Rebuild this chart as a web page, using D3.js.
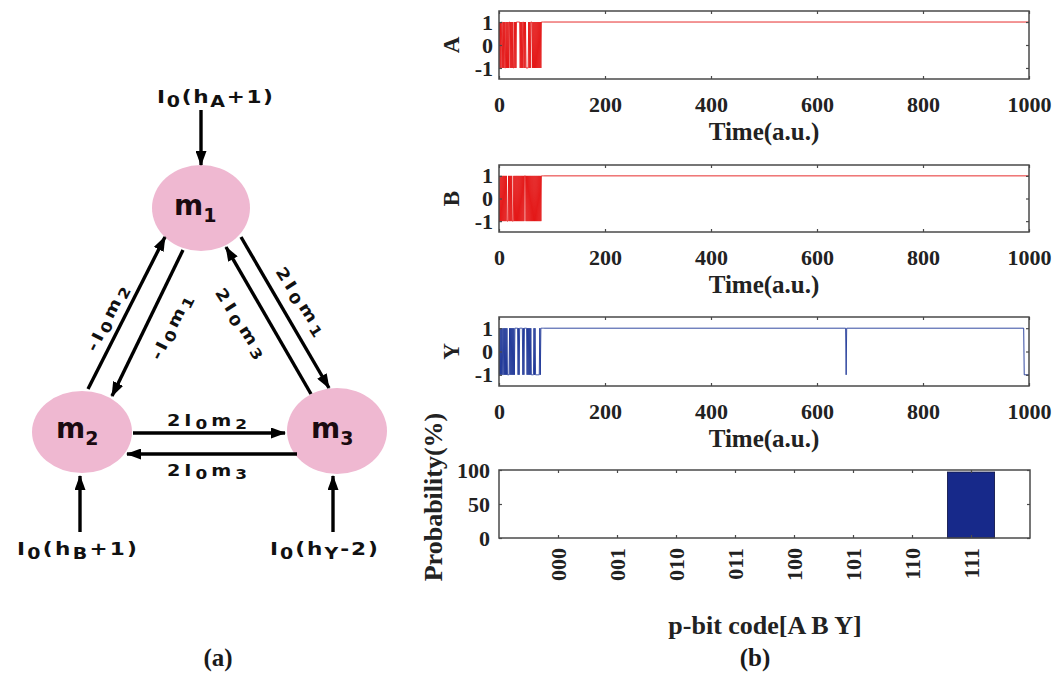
<!DOCTYPE html>
<html><head><meta charset="utf-8">
<script src="https://cdn.jsdelivr.net/npm/d3@7/dist/d3.min.js"></script>
<style>body{margin:0;background:#fff}</style>
</head><body>
<svg id="c" width="1063" height="675"></svg>
<script>
// ---------------- data ----------------
const timeTicks = [0, 200, 400, 600, 800, 1000];
const stateTicks = [1, 0, -1];
const codes = ["000", "001", "010", "011", "100", "101", "110", "111"];
const probability = [0, 0, 0, 0, 0, 0, 0, 97];
const probTicks = [0, 50, 100];

// p-bit states for time steps 0..84, then the later change points [time, state]
const A_early = [-1,1,-1,1,-1,1,1,-1,1,-1,1,-1,-1,1,-1,1,-1,1,-1,1,1,-1,1,-1,1,-1,1,-1,-1,1,-1,1,-1,1,
  1,1,1,1,1,1, -1,1,-1,1,-1,1,1,-1,1,-1,1,-1, -1,-1,-1,-1, 1,-1,1,-1,1, 1,1,
  -1,1,-1,1,-1,1,-1,1,-1,1,-1,1,-1,1,-1,1,-1, 1,1,1,1,1];
const A_tail = [[85, 1], [1000, 1]];

const B_early = [1,-1,1,-1,1,-1,1,-1,1,-1,1,-1,1,-1,1,-1, -1,-1, 1,-1,1,-1,1,-1,1,-1, -1,-1,
  1,-1,1,-1,1,-1,1,-1,1,-1,1,-1,1,-1,1,-1,1,-1,1,-1,1, 1,1,
  -1,1,-1,1,-1,1,-1,1,-1,1,-1,1,-1,1,-1,1,-1,1,-1,1,-1,1,-1,1,-1,1,-1,1,-1,1, 1,1,1,1];
const B_tail = [[85, 1], [1000, 1]];

const Y_early = [1,-1,1,-1,1,-1,1,-1,-1,1,-1,1,-1,1,-1,1,-1, -1,-1,-1, 1,-1,1,-1,1,-1,1,-1,1,-1,
  1,1,1,1,1,1, -1,1,-1,1, 1,1,1,1,1, -1,1,-1,1, 1,1,1,1, -1,1,-1,1,-1,1,-1,1,-1,
  -1,-1,-1,-1, 1,-1,1,-1, -1,-1,-1,-1,-1,-1,-1, 1,-1,1, 1,1,1,1,1];
const Y_tail = [[85, 1], [654, 1], [655, -1], [656, 1], [990, 1], [991, -1], [1000, -1]];

// ---------------- rendering ----------------
const svg = d3.select("#c");
const serif = "'Liberation Serif','Times New Roman',serif";
const sans = "'DejaVu Sans',Verdana,sans-serif";
const axisColor = "#4a4a4a";

// ===== (a) schematic =====
const defs = svg.append("defs");
defs.append("marker").attr("id", "ah").attr("markerUnits", "userSpaceOnUse")
  .attr("viewBox", "0 0 15 11").attr("markerWidth", 15).attr("markerHeight", 11)
  .attr("refX", 14).attr("refY", 5.5).attr("orient", "auto")
  .append("path").attr("d", "M0,0 L15,5.5 L0,11 Z").attr("fill", "#000");

const nodes = [
  {name: "m", sub: "1", cx: 201, cy: 208, rx: 49, ry: 43, tx: 174, ty: 215},
  {name: "m", sub: "2", cx: 82, cy: 432, rx: 50, ry: 41, tx: 56, ty: 438},
  {name: "m", sub: "3", cx: 337, cy: 431, rx: 50, ry: 43, tx: 311, ty: 438}
];
const arrows = [
  [201, 110, 201, 165], [80, 532, 80, 476], [333, 532, 333, 476],
  [133, 433, 285, 433], [297, 454, 127, 454],
  [88, 389, 165, 237], [183, 250, 112, 396],
  [241, 237, 329, 388], [311, 394, 226, 247]
];
const gA = svg.append("g");
gA.selectAll("ellipse").data(nodes).join("ellipse")
  .attr("cx", d => d.cx).attr("cy", d => d.cy).attr("rx", d => d.rx).attr("ry", d => d.ry)
  .attr("fill", "#efb8d1");
nodes.forEach(d => {
  const t = gA.append("text").attr("x", d.tx).attr("y", d.ty)
    .attr("font-family", sans).attr("font-weight", "bold").attr("font-size", 28).attr("fill", "#1a0a10");
  t.append("tspan").text(d.name);
  t.append("tspan").attr("font-size", 19).attr("dy", 7).text(d.sub);
});
gA.selectAll("line.arr").data(arrows).join("line").attr("class", "arr")
  .attr("x1", d => d[0]).attr("y1", d => d[1]).attr("x2", d => d[2]).attr("y2", d => d[3])
  .attr("stroke", "#000").attr("stroke-width", 3.4).attr("marker-end", "url(#ah)");

function rich(parts, size, cx, cy, angle, len) {
  const t = gA.append("text")
    .attr("transform", `translate(${cx},${cy}) rotate(${angle}) scale(1.2,1)`)
    .attr("text-anchor", "middle").attr("y", size * 0.36)
    .attr("font-family", sans).attr("font-weight", "bold").attr("font-size", size)
    .attr("textLength", len / 1.2).attr("lengthAdjust", "spacing").attr("fill", "#111");
  let shifted = false;
  parts.forEach(p => {
    const sub = p.startsWith("_");
    const s = t.append("tspan").text(sub ? p.slice(1) : p);
    if (sub && !shifted) { s.attr("dy", size * 0.2).attr("font-size", size * 0.88); shifted = true; }
    else if (sub) { s.attr("font-size", size * 0.88); }
    else if (shifted) { s.attr("dy", -size * 0.2); shifted = false; }
  });
}
rich(["I", "_0", "(h", "_A", "+1)"], 18, 215, 97, 0, 116);
rich(["I", "_0", "(h", "_B", "+1)"], 18, 77, 549, 0, 120);
rich(["I", "_0", "(h", "_Y", "-2)"], 18, 324, 549, 0, 108);
rich(["2I", "_0", "m", "_2"], 16, 207, 420, 0, 80);
rich(["2I", "_0", "m", "_3"], 16, 207, 470, 0, 80);
rich(["-I", "_0", "m", "_2"], 16, 107, 318, -63, 72);
rich(["-I", "_0", "m", "_1"], 16, 171, 327, -63, 71);
rich(["2I", "_0", "m", "_1"], 16, 301, 301, 57, 78);
rich(["2I", "_0", "m", "_3"], 16, 241, 323, 57, 80);

// ===== (b) time traces =====
const L = 499, R = 1029;
const xTime = d3.scaleLinear().domain([0, 1000]).range([L, R]);

function styleText(sel, size) {
  sel.selectAll("text").attr("font-family", serif).attr("font-weight", "bold")
    .attr("font-size", size).attr("fill", "#222");
}
function styleAxis(g) {
  g.select(".domain").remove();
  g.selectAll(".tick line").attr("stroke", axisColor).attr("stroke-width", 1.2);
}

function tracePanel(top, bottom, name, early, tail, color, id) {
  const y = d3.scaleLinear().domain([-1.48, 1.48]).range([bottom, top]);
  const pts = early.map((v, t) => [t, v]).concat(tail);
  const g = svg.append("g");
  defs.append("clipPath").attr("id", id).append("rect")
    .attr("x", L).attr("y", top).attr("width", R - L).attr("height", bottom - top);
  g.append("path").datum(pts).attr("clip-path", `url(#${id})`)
    .attr("d", d3.line().x(d => xTime(d[0])).y(d => y(d[1])))
    .attr("fill", "none").attr("stroke", color).attr("stroke-width", 0.9);

  const gb = g.append("g").attr("transform", `translate(0,${bottom})`)
    .call(d3.axisBottom(xTime).tickValues(timeTicks).tickSizeInner(-3).tickSizeOuter(0)
      .tickPadding(17).tickFormat(d3.format("d")));
  styleAxis(gb); styleText(gb, 22);
  const gt = g.append("g").attr("transform", `translate(0,${top})`)
    .call(d3.axisTop(xTime).tickValues(timeTicks).tickSizeInner(-3).tickSizeOuter(0).tickFormat(""));
  styleAxis(gt);
  const gl = g.append("g").attr("transform", `translate(${L},0)`)
    .call(d3.axisLeft(y).tickValues(stateTicks).tickSizeInner(-3).tickSizeOuter(0).tickPadding(6).tickFormat(d3.format("d")));
  styleAxis(gl); styleText(gl, 22);
  gl.selectAll("text").text(d => d < 0 ? "-1" : d);
  const gr = g.append("g").attr("transform", `translate(${R},0)`)
    .call(d3.axisRight(y).tickValues(stateTicks).tickSizeInner(-3).tickSizeOuter(0).tickFormat(""));
  styleAxis(gr);

  g.append("rect").attr("x", L).attr("y", top).attr("width", R - L).attr("height", bottom - top)
    .attr("fill", "none").attr("stroke", axisColor).attr("stroke-width", 1.5);

  g.append("text").attr("transform", `translate(451,${(top + bottom) / 2}) rotate(-90)`)
    .attr("text-anchor", "middle").attr("dy", "0.35em")
    .attr("font-family", serif).attr("font-weight", "bold").attr("font-size", 23).attr("fill", "#222").text(name);
  g.append("text").attr("x", (L + R) / 2).attr("y", bottom + 52).attr("dy", "0.35em")
    .attr("text-anchor", "middle").attr("font-family", serif).attr("font-weight", "bold")
    .attr("font-size", 25).attr("fill", "#222").text("Time(a.u.)");
}
tracePanel(11, 79, "A", A_early, A_tail, "#e31414", "clipA");
tracePanel(165, 232, "B", B_early, B_tail, "#e31414", "clipB");
tracePanel(317, 386, "Y", Y_early, Y_tail, "#1d3596", "clipY");

// ===== (b) probability bar chart =====
const bTop = 470, bBot = 538, bR = 1030;
const xCat = d3.scaleLinear().domain([0, 9]).range([L, bR]);
const yProb = d3.scaleLinear().domain([0, 100]).range([bBot, bTop]);
const gB = svg.append("g");
gB.selectAll("rect.bar").data(probability).join("rect").attr("class", "bar")
  .attr("x", (d, i) => xCat(i + 1 - 0.4)).attr("width", xCat(0.8) - xCat(0))
  .attr("y", d => yProb(d)).attr("height", d => yProb(0) - yProb(d))
  .attr("fill", "#17298a").attr("stroke", "#0b1040").attr("stroke-width", 0.8);

const catIdx = codes.map((c, i) => i + 1);
const cb = gB.append("g").attr("transform", `translate(0,${bBot})`)
  .call(d3.axisBottom(xCat).tickValues(catIdx).tickSizeInner(-3).tickSizeOuter(0).tickFormat(i => codes[i - 1]));
styleAxis(cb); styleText(cb, 22);
cb.selectAll("text").attr("transform", "rotate(-90)").attr("text-anchor", "end")
  .attr("x", -10).attr("y", 0).attr("dy", "0.35em");
const ct = gB.append("g").attr("transform", `translate(0,${bTop})`)
  .call(d3.axisTop(xCat).tickValues(catIdx).tickSizeInner(-3).tickSizeOuter(0).tickFormat(""));
styleAxis(ct);
const cl = gB.append("g").attr("transform", `translate(${L},0)`)
  .call(d3.axisLeft(yProb).tickValues(probTicks).tickSizeInner(-3).tickSizeOuter(0).tickPadding(9));
styleAxis(cl); styleText(cl, 22);
const cr = gB.append("g").attr("transform", `translate(${bR},0)`)
  .call(d3.axisRight(yProb).tickValues(probTicks).tickSizeInner(-3).tickSizeOuter(0).tickFormat(""));
styleAxis(cr);
gB.append("rect").attr("x", L).attr("y", bTop).attr("width", bR - L).attr("height", bBot - bTop)
  .attr("fill", "none").attr("stroke", axisColor).attr("stroke-width", 1.5);
gB.append("text").attr("transform", "translate(433,497) rotate(-90)")
  .attr("text-anchor", "middle").attr("dy", "0.35em")
  .attr("font-family", serif).attr("font-weight", "bold").attr("font-size", 26).attr("fill", "#222").text("Probability(%)");
gB.append("text").attr("x", 765).attr("y", 625).attr("dy", "0.35em").attr("text-anchor", "middle")
  .attr("font-family", serif).attr("font-weight", "bold").attr("font-size", 26).attr("fill", "#222").text("p-bit code[A B Y]");

// panel captions
svg.append("text").attr("x", 218).attr("y", 657).attr("dy", "0.35em").attr("text-anchor", "middle")
  .attr("font-family", serif).attr("font-weight", "bold").attr("font-size", 25).attr("fill", "#1a1a1a").text("(a)");
svg.append("text").attr("x", 755).attr("y", 657).attr("dy", "0.35em").attr("text-anchor", "middle")
  .attr("font-family", serif).attr("font-weight", "bold").attr("font-size", 25).attr("fill", "#1a1a1a").text("(b)");
</script>
</body></html>
